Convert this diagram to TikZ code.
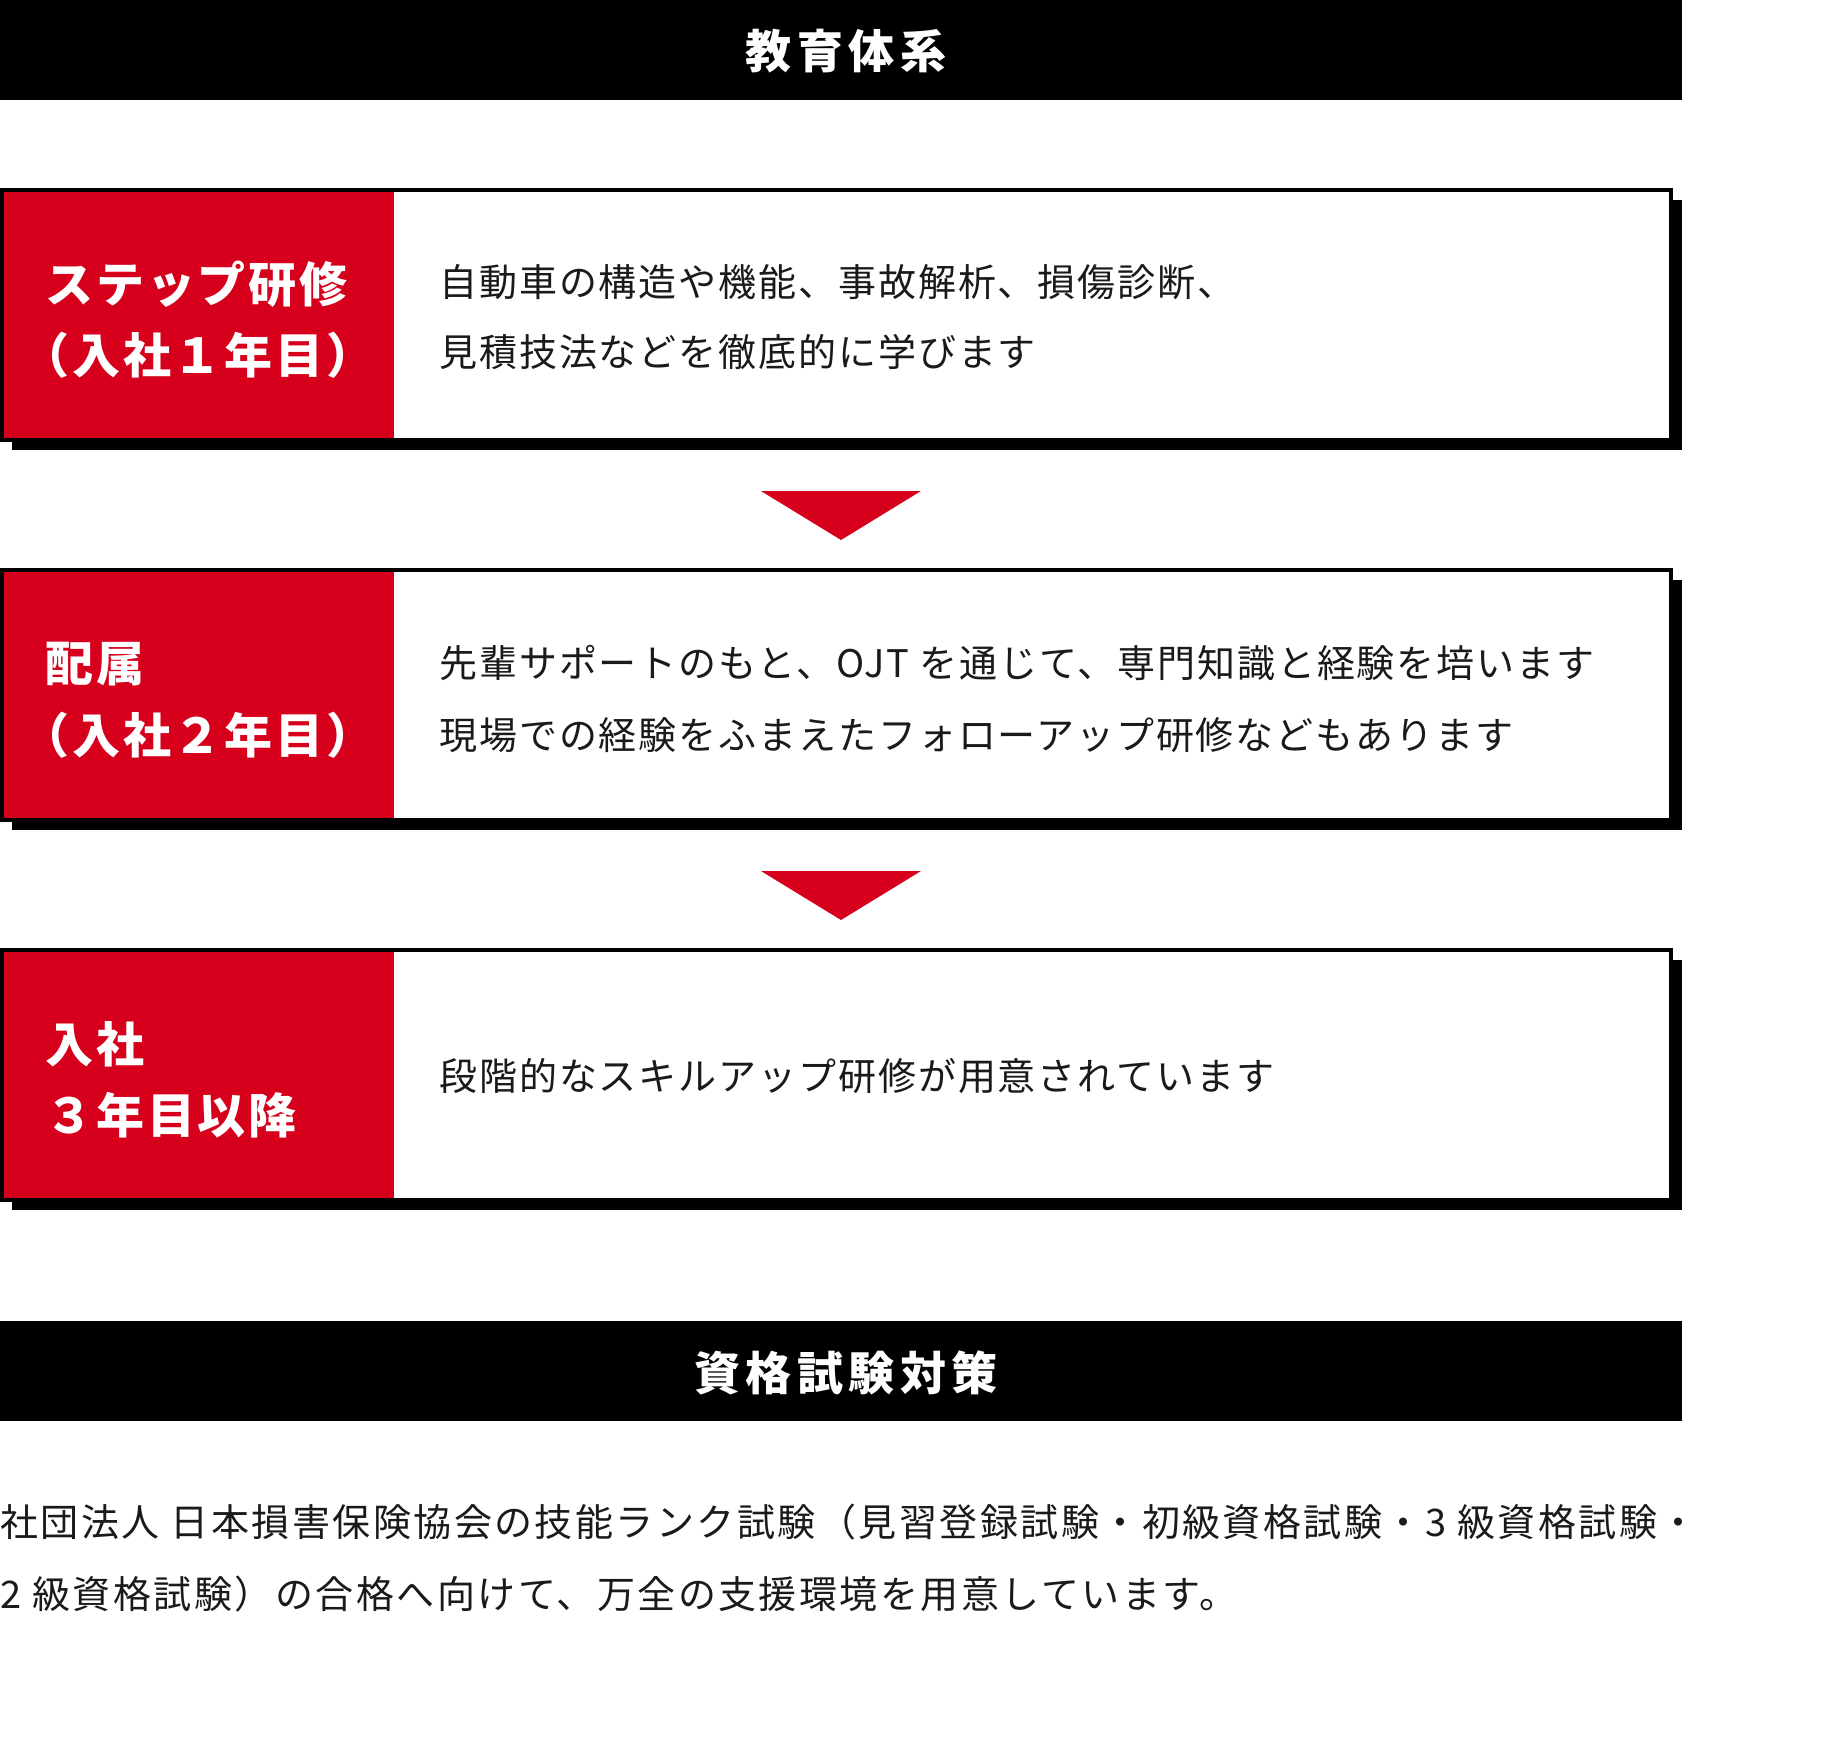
\documentclass[tikz,border=0pt]{standalone}
\usepackage{fontspec}
\newfontfamily\jp[LetterSpace=5]{Noto Sans CJK JP}
\newfontfamily\jppar[LetterSpace=6.5]{Noto Sans CJK JP}
\newfontfamily\jplab[LetterSpace=6,RawFeature=+halt]{Noto Sans CJK JP}
\newfontfamily\jphead[LetterSpace=12]{Noto Sans CJK JP}
\definecolor{jred}{RGB}{214,0,28}
\definecolor{txt}{RGB}{26,26,26}
\tikzset{
  body/.style={font=\jp\fontsize{19pt}{22pt}\selectfont, text=txt, anchor=west, inner sep=0pt},
  para/.style={font=\jppar\fontsize{19pt}{22pt}\selectfont, text=txt, anchor=west, inner sep=0pt},
  lab/.style={font=\jplab\bfseries\fontsize{24pt}{28pt}\selectfont, text=white, anchor=west, inner sep=0pt},
  head/.style={font=\jphead\bfseries\fontsize{23pt}{26pt}\selectfont, text=white, inner sep=0pt},
  headbar/.style={fill=black},
  shadowbox/.style={fill=black},
  framebox/.style={fill=white, draw=black, line width=2pt},
  redpart/.style={fill=jred},
  downtri/.style={fill=jred}
}
\begin{document}
\begin{tikzpicture}[x=0.5pt,y=-0.5pt]
\useasboundingbox (0,0) rectangle (1822,1752);
% header 1
\fill[headbar] (0,0) rectangle (1682,100);
\node[head] (h1) at (846,51) {教育体系};
% box 1
\fill[shadowbox] (12,200) rectangle (1682,450);
\filldraw[framebox] (2,190) rectangle (1671,440);
\fill[redpart] (4,192) rectangle (394,438);
\node[lab] (l1a) at (45,284) {ステップ研修};
\node[lab] (l1b) at (45,355) {（入社１年目）};
\node[body] (t1a) at (439,282) {自動車の構造や機能、事故解析、損傷診断、};
\node[body] (t1b) at (439,352) {見積技法などを徹底的に学びます};
% arrow 1
\fill[downtri] (761,491) -- (921,491) -- (841,540) -- cycle;
% box 2
\fill[shadowbox] (12,580) rectangle (1682,830);
\filldraw[framebox] (2,570) rectangle (1671,820);
\fill[redpart] (4,572) rectangle (394,818);
\node[lab] (l2a) at (45,664) {配属};
\node[lab] (l2b) at (45,735) {（入社２年目）};
\node[body] (t2a) at (439,663) {先輩サポートのもと、OJT を通じて、専門知識と経験を培います};
\node[body] (t2b) at (439,735) {現場での経験をふまえたフォローアップ研修などもあります};
% arrow 2
\fill[downtri] (761,871) -- (921,871) -- (841,920) -- cycle;
% box 3
\fill[shadowbox] (12,960) rectangle (1682,1210);
\filldraw[framebox] (2,950) rectangle (1671,1200);
\fill[redpart] (4,952) rectangle (394,1198);
\node[lab] (l3a) at (45,1044) {入社};
\node[lab] (l3b) at (45,1115) {３年目以降};
\node[body] (t3a) at (439,1076) {段階的なスキルアップ研修が用意されています};
% header 2
\fill[headbar] (0,1321) rectangle (1682,1421);
\node[head] (h2) at (846,1373) {資格試験対策};
% paragraph
\node[para] (p1) at (0,1522) {社団法人 日本損害保険協会の技能ランク試験（見習登録試験・初級資格試験・3 級資格試験・};
\node[para] (p2) at (0,1594) {2 級資格試験）の合格へ向けて、万全の支援環境を用意しています。};
\end{tikzpicture}
\end{document}
